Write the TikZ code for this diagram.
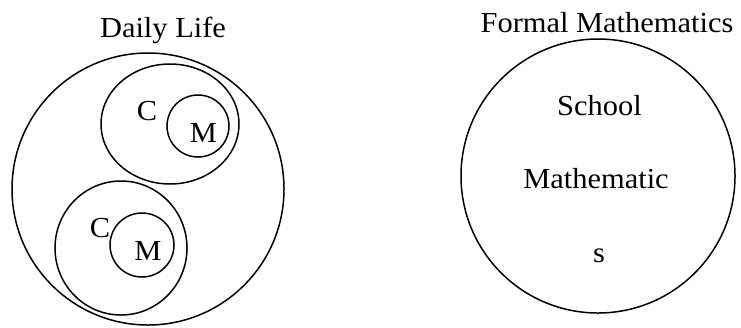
\documentclass[tikz,border=0pt]{standalone}
\usepackage{fontspec}
\setmainfont{Liberation Serif}[FakeStretch=1.05]
\begin{document}
\begin{tikzpicture}[line width=0.85pt, every node/.style={font=\fontsize{16.5}{19}\selectfont, anchor=base, inner sep=0pt}]
                    \useasboundingbox (0,0) rectangle (14.82,6.54);

                    % Daily life
                    \draw (2.96,2.76) circle (2.72cm);
                    \node (daily) at (3.26,5.79) {Daily Life};

                    % Upper C with M inside
                    \draw (3.40,4.06) ellipse (1.38cm and 1.20cm);
                    \draw (3.96,4.02) circle (0.62cm);
                    \node (c1) at (2.94,4.14) {C};
                    \node (m1) at (4.07,3.70) {M};

                    % Lower C with M inside
                    \draw (2.42,1.58) ellipse (1.32cm and 1.34cm);
                    \draw (2.84,1.64) circle (0.64cm);
                    \node (c2) at (2.00,1.80) {C};
                    \node (m2) at (2.96,1.34) {M};

                    % Formal mathematics
                    \draw (11.96,3.02) circle (2.74cm);
                    \node (formal) at (12.14,5.90) {Formal Mathematics};
                    \node (school) at (11.99,4.24) {School};
                    \node (math) at (11.92,2.78) {Mathematic};
                    \node (s) at (11.98,1.30) {s};
                \end{tikzpicture}
\end{document}
